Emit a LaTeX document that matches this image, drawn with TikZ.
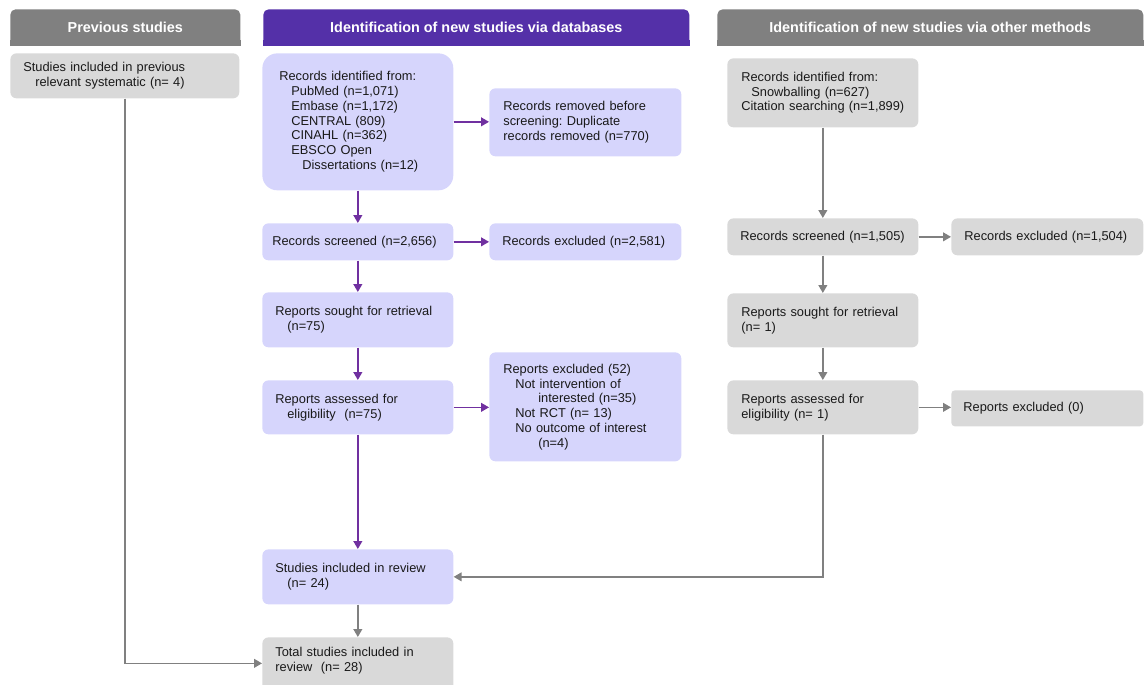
\documentclass[tikz,border=0pt]{standalone}
\usepackage{fontspec}
\setmainfont{Liberation Sans}
\frenchspacing
\definecolor{hdrgray}{RGB}{128, 128, 128}
\definecolor{hdrpurple}{RGB}{84, 48, 168}
\definecolor{arrpurple}{RGB}{112, 48, 160}
\definecolor{dbfill}{RGB}{214, 213, 252}
\definecolor{othfill}{RGB}{217, 217, 217}
\usetikzlibrary{arrows.meta, positioning, calc}

\tikzset{
  hdr/.style={text=white, rounded corners=3pt, minimum height=0.72cm, anchor=north west, inner sep=0pt, font=\fontsize{8.2}{10}\selectfont\bfseries},
  pbox/.style={rounded corners=3.5pt, anchor=north west, align=left, inner ysep=0pt, text=black!90, font=\fontsize{7.3}{8.4}\selectfont},
  dbbox/.style={pbox, fill=dbfill},
  othbox/.style={pbox, fill=othfill},
  dbarrow/.style={draw=arrpurple, line width=0.8pt, -{Triangle[width=5pt, length=4.5pt]}},
  grarrow/.style={draw=hdrgray, line width=0.8pt, -{Triangle[width=5pt, length=4.5pt]}},
}

\begin{document}
\begin{tikzpicture}[x=0.02cm, y=-0.02cm]
  \useasboundingbox (0,0) rectangle (1146,685);

  % Headers
  \node[hdr, fill=hdrgray, minimum width=4.6cm] (prevh) at (10,9) {Previous studies};
  \fill[hdrgray] (prevh.south west) rectangle ([yshift=0.12cm]prevh.south east);
  \node[hdr, fill=hdrpurple, minimum width=8.52cm] (dbh) at (263,9) {Identification of new studies via databases};
  \fill[hdrpurple] (dbh.south west) rectangle ([yshift=0.12cm]dbh.south east);
  \node[hdr, fill=hdrgray, minimum width=8.52cm] (othh) at (717,9) {Identification of new studies via other methods};
  \fill[hdrgray] (othh.south west) rectangle ([yshift=0.12cm]othh.south east);

  % Previous studies
  \node[othbox, minimum width=4.58cm, minimum height=0.9cm, inner xsep=0.26cm, text width=4.06cm] (prev) at (10,53) {
    Studies included in previous\\
    \hspace*{0.24cm}relevant systematic (n= 4)
  };

  % Databases
  \node[dbbox, rounded corners=8.5pt, minimum width=3.82cm, minimum height=2.74cm, inner xsep=0.34cm, text width=3.14cm] (ident) at (262,53) {
    Records identified from:\\
    \hspace*{0.24cm}PubMed (n=1,071)\\
    \hspace*{0.24cm}Embase (n=1,172)\\
    \hspace*{0.24cm}CENTRAL (809)\\
    \hspace*{0.24cm}CINAHL (n=362)\\
    \hspace*{0.24cm}EBSCO Open\\
    \hspace*{0.46cm}Dissertations (n=12)
  };
  \node[dbbox, minimum width=3.84cm, minimum height=1.36cm, inner xsep=0.28cm, text width=3.28cm] (removed) at (489,88) {
    Records removed before\\
    screening: Duplicate\\
    records removed (n=770)
  };
  \node[dbbox, minimum width=3.82cm, minimum height=0.74cm, inner xsep=0.2cm, text width=3.42cm] (scr) at (262,223) {Records screened (n=2,656)};
  \node[dbbox, minimum width=3.84cm, minimum height=0.74cm, inner xsep=0.26cm, text width=3.32cm] (exc) at (489,223) {Records excluded (n=2,581)};
  \node[dbbox, minimum width=3.82cm, minimum height=1.1cm, inner xsep=0.26cm, text width=3.3cm] (sought) at (262,292) {
    Reports sought for retrieval\\
    \hspace*{0.24cm}(n=75)
  };
  \node[dbbox, minimum width=3.82cm, minimum height=1.08cm, inner xsep=0.26cm, text width=3.3cm] (assessed) at (262,380) {
    Reports assessed for\\
    \hspace*{0.24cm}eligibility\ \ (n=75)
  };
  \node[dbbox, minimum width=3.84cm, minimum height=2.18cm, inner xsep=0.28cm, text width=3.28cm] (repexc) at (489,352) {
    Reports excluded (52)\\
    \hspace*{0.24cm}Not intervention of\\
    \hspace*{0.7cm}interested (n=35)\\
    \hspace*{0.24cm}Not RCT (n= 13)\\
    \hspace*{0.24cm}No outcome of interest\\
    \hspace*{0.7cm}(n=4)
  };
  \node[dbbox, minimum width=3.82cm, minimum height=1.1cm, inner xsep=0.26cm, text width=3.3cm] (incl) at (262,549) {
    Studies included in review\\
    \hspace*{0.24cm}(n= 24)
  };
  \node[othbox, minimum width=3.82cm, minimum height=1.26cm, text depth=0.68cm, inner xsep=0.26cm, text width=3.3cm] (total) at (262,637) {
    Total studies included in\\
    review\ \ (n= 28)
  };

  % Other methods
  \node[othbox, minimum width=3.82cm, minimum height=1.38cm, inner xsep=0.28cm, text width=3.26cm] (oident) at (727,58) {
    Records identified from:\\
    \hspace*{0.2cm}Snowballing (n=627)\\
    Citation searching (n=1,899)
  };
  \node[othbox, minimum width=3.82cm, minimum height=0.74cm, inner xsep=0.26cm, text width=3.3cm] (scrb) at (727,218) {Records screened (n=1,505)};
  \node[othbox, minimum width=3.84cm, minimum height=0.74cm, inner xsep=0.26cm, text width=3.32cm] (excb) at (951,218) {Records excluded (n=1,504)};
  \node[othbox, minimum width=3.82cm, minimum height=1.08cm, inner xsep=0.28cm, text width=3.26cm] (soughtb) at (727,293) {
    Reports sought for retrieval\\
    (n= 1)
  };
  \node[othbox, minimum width=3.82cm, minimum height=1.08cm, inner xsep=0.28cm, text width=3.26cm] (assessedb) at (727,380) {
    Reports assessed for\\
    eligibility (n= 1)
  };
  \node[othbox, rounded corners=2pt, minimum width=3.84cm, minimum height=0.72cm, inner xsep=0.24cm, text width=3.36cm] (repexcb) at (951,390) {Reports excluded (0)};

  % Connectors
  \draw[dbarrow] (ident) -- (scr);
  \draw[dbarrow] (ident.east) -- (ident.east -| removed.west);
  \draw[dbarrow] (scr) -- (exc);
  \draw[dbarrow] (scr) -- (sought);
  \draw[dbarrow] (sought) -- (assessed);
  \draw[dbarrow] (assessed.east) -- (assessed.east -| repexc.west);
  \draw[dbarrow] (assessed) -- (incl);
  \draw[grarrow] (incl) -- (total);
  \draw[grarrow] (prev.south) |- ([yshift=0.11cm]total.west);

  \draw[grarrow] (oident) -- (scrb);
  \draw[grarrow] (scrb) -- (excb);
  \draw[grarrow] (scrb) -- (soughtb);
  \draw[grarrow] (soughtb) -- (assessedb);
  \draw[grarrow] (assessedb.east) -- (assessedb.east -| repexcb.west);
  \draw[grarrow] (assessedb.south) |- (incl.east);
\end{tikzpicture}
\end{document}
